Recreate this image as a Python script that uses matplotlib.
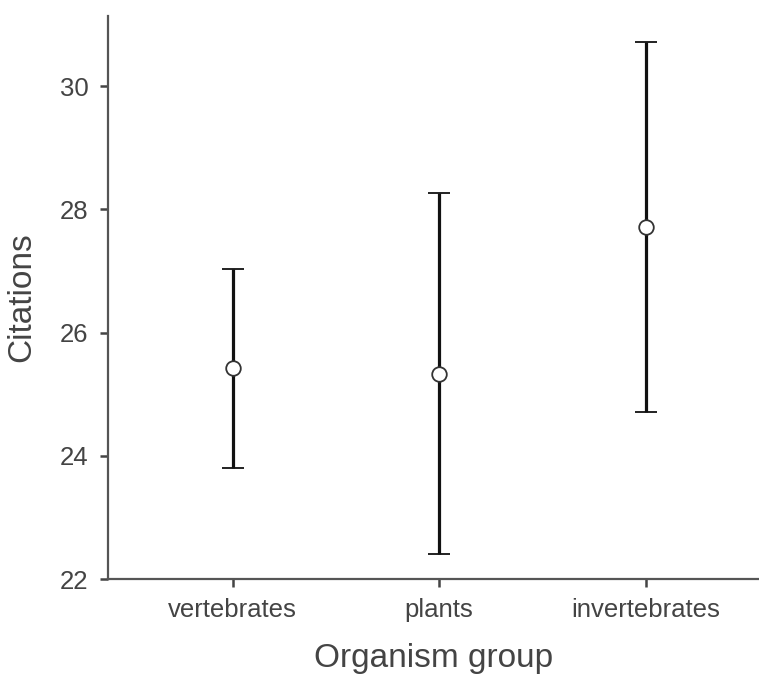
import matplotlib.pyplot as plt

# group means and confidence limits
groups = ['vertebrates', 'plants', 'invertebrates']
means = [25.42, 25.33, 27.71]
lower = [23.80, 22.40, 24.71]
upper = [27.04, 28.26, 30.72]

plt.rcParams['font.family'] = ['Liberation Sans', 'DejaVu Sans']

fig = plt.figure(figsize=(7.59, 6.75), dpi=100)
ax = fig.add_axes([0.1423, 0.1422, 0.8577, 0.8341])

x = list(range(len(groups)))
err = [[m - lo for m, lo in zip(means, lower)], [hi - m for m, hi in zip(means, upper)]]
ax.errorbar(x, means, yerr=err, fmt='o', color='black', ecolor='#111111',
            elinewidth=2.3, capsize=8, capthick=2.3,
            markersize=10.5, markerfacecolor='white', markeredgecolor='#333333',
            markeredgewidth=1.3, zorder=3)

ax.set_xlim(-0.605, 2.55)
ax.set_ylim(22, 31.14)
ax.set_yticks([22, 24, 26, 28, 30])
ax.set_xticks(x)
ax.set_xticklabels(groups)

for s in ['top', 'right']:
    ax.spines[s].set_visible(False)
for s in ['left', 'bottom']:
    ax.spines[s].set_color('#555555')
    ax.spines[s].set_linewidth(1.6)

ax.tick_params(axis='y', length=6, width=1.8, color='#444444', labelsize=18.5,
               labelcolor='#444444', pad=8)
ax.tick_params(axis='x', length=6, width=1.8, color='#444444', labelsize=18.5,
               labelcolor='#444444', pad=8)

ax.set_ylabel('Citations', fontsize=24, color='#444444', labelpad=16)
ax.set_xlabel('Organism group', fontsize=24, color='#444444', labelpad=15)

plt.savefig('out.png', dpi=100)
